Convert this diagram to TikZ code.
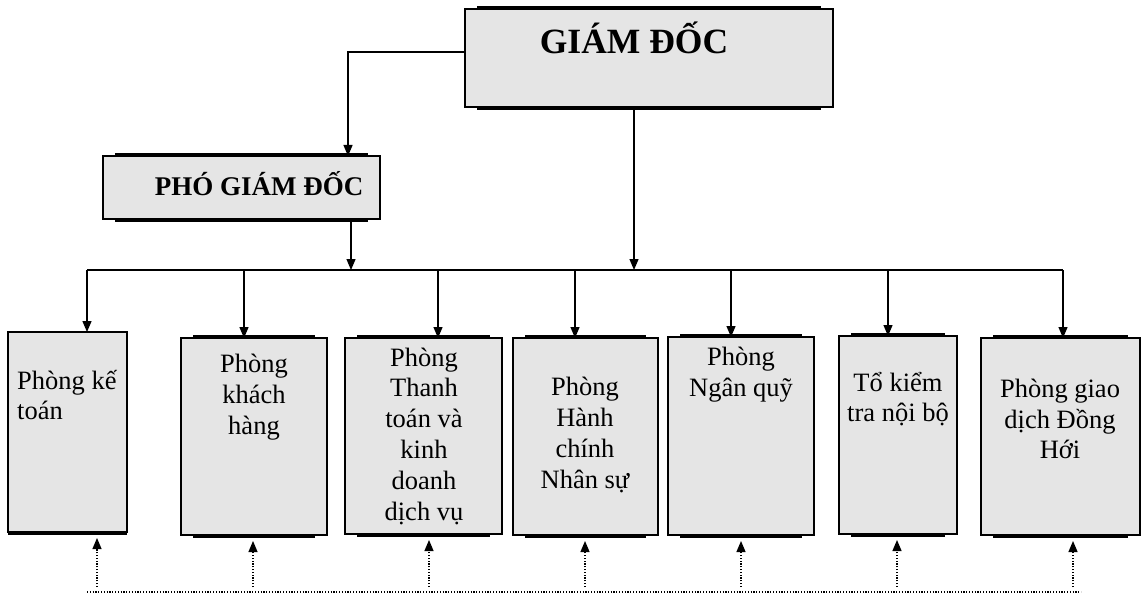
\documentclass[tikz,border=0pt]{standalone}
\usepackage{fontspec}
\setmainfont{Liberation Serif}
\usetikzlibrary{arrows.meta,backgrounds}
\tikzset{
  box/.style={draw=black, line width=1.6pt, fill=black!10, inner sep=0pt, outer sep=0pt, anchor=north west},
  txt/.style={align=center, inner sep=0pt, font=\fontsize{26.5}{30.8}\selectfont},
  ttl/.style={inner sep=0pt, font=\bfseries\fontsize{#1}{#1}\selectfont},
  arr/.style={draw=black, line width=1.3pt, -{Triangle[length=11pt,width=9pt]}},
  dotarr/.style={draw=black, line width=1.2pt, dash pattern=on 1.2pt off 1.6pt, -{Triangle[length=11pt,width=9pt]}},
  dotline/.style={draw=black, line width=1.2pt, dash pattern=on 1.2pt off 1.6pt},
  shadowfill/.style={fill=black}
}
\begin{document}
\begin{tikzpicture}[x=1pt,y=-1pt]
\useasboundingbox (0,0) rectangle (1145,596);
% boxes
\node[box, minimum width=368pt, minimum height=98pt] (g) at (465,9) {};
\node[box, minimum width=277pt, minimum height=63pt] (p) at (103,156) {};
\node[box, minimum width=119pt, minimum height=200pt] (b1) at (8,332) {};
\node[box, minimum width=146pt, minimum height=197pt] (b2) at (181,338) {};
\node[box, minimum width=157pt, minimum height=196pt] (b3) at (345,338) {};
\node[box, minimum width=145pt, minimum height=197pt] (b4) at (513,338) {};
\node[box, minimum width=146pt, minimum height=198pt] (b5) at (668,337) {};
\node[box, minimum width=118pt, minimum height=198pt] (b6) at (839,336) {};
\node[box, minimum width=159pt, minimum height=197pt] (b7) at (981,338) {};
% shadows
\begin{scope}[on background layer]
\foreach \b in {g,p,b2,b3,b4,b5,b6,b7}{
  \fill[shadowfill] ([xshift=12pt,yshift=2.6pt]\b.north west) rectangle ([xshift=-12pt,yshift=-2.6pt]\b.south east);
}
\fill[shadowfill] ([yshift=1pt]b1.south west) rectangle ([yshift=-2.6pt]b1.south east);
\end{scope}
% texts
\node[ttl=35.5] (tg) at (634,38) {GIÁM ĐỐC};
\node[ttl=27] (tp) at (259,184) {PHÓ GIÁM ĐỐC};
\node[txt, align=left, anchor=west] (t1) at (17,395) {Phòng kế\\toán};
\node[txt] (t2) at (254,397) {Phòng\\khách\\hàng};
\node[txt] (t3) at (424,436) {Phòng\\Thanh\\toán và\\kinh\\doanh\\dịch vụ};
\node[txt] (t4) at (585,435) {Phòng\\Hành\\chính\\Nhân sự};
\node[txt] (t5) at (741,375) {Phòng\\Ngân quỹ};
\node[txt] (t6) at (898,399) {Tổ kiểm\\tra nội bộ};
\node[txt] (t7) at (1060,419) {Phòng giao\\dịch Đồng\\Hới};
% connectors
\coordinate (busL) at (87,270);
\coordinate (busR) at (1063,270);
\coordinate (gl) at (465,52);
\draw[arr] (gl) -| (348,0 |- p.north);
\draw[arr] (351,0 |- p.south) -- (351,0 |- busL);
\draw[arr] (634,0 |- g.south) -- (634,0 |- busL);
\draw[line width=1.3pt] (busL) -- (busR);
\draw[arr] (busL) -- (busL |- b1.north);
\draw[arr] (244,0 |- busL) -- (244,0 |- b2.north);
\draw[arr] (438,0 |- busL) -- (438,0 |- b3.north);
\draw[arr] (575,0 |- busL) -- (575,0 |- b4.north);
\draw[arr] (731,0 |- busL) -- (731,0 |- b5.north);
\draw[arr] (888,0 |- busL) -- (888,0 |- b6.north);
\draw[arr] (busR) -- (busR |- b7.north);
% dotted feedback
\coordinate (dL) at (87,592);
\coordinate (dR) at (1081,592);
\draw[dotline] (dL) -- (dR);
\foreach \xx/\b in {97/b1,253/b2,429/b3,585/b4,741/b5,897/b6,1073/b7}{
  \draw[dotarr] (\xx,587) -- ([yshift=-6pt]\xx,0 |- \b.south);
}
\end{tikzpicture}
\end{document}
